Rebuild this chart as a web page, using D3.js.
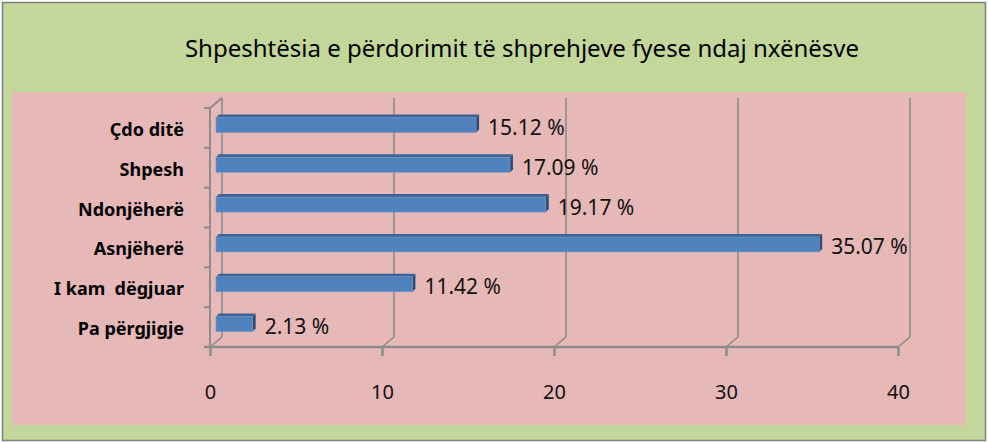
<!DOCTYPE html>
<html>
<head>
<meta charset="utf-8">
<script src="https://cdn.jsdelivr.net/npm/d3@7"></script>
<style>
  body { margin: 0; background: #fff; }
  svg text { font-family: "Noto Sans", sans-serif; white-space: pre; }
</style>
</head>
<body>
<div id="chart"></div>
<script>
var title = "Shpeshtësia e përdorimit të shprehjeve fyese ndaj nxënësve";
var categories = ["Çdo ditë", "Shpesh", "Ndonjëherë", "Asnjëherë", "I kam  dëgjuar", "Pa përgjigje"];
var values = [15.12, 17.09, 19.17, 35.07, 11.42, 2.13];
var ticks = [0, 10, 20, 30, 40];

var width = 988, height = 443;
var depthX = 12, depthY = -10;

var svg = d3.select("#chart").append("svg")
    .attr("width", width)
    .attr("height", height);

// outer chart area
svg.append("rect")
    .attr("x", 2.5).attr("y", 2.5)
    .attr("width", width - 5).attr("height", height - 5)
    .attr("fill", "#c4d79b")
    .attr("stroke", "#7f7f7f")
    .attr("stroke-width", 1.5);

// plot area
svg.append("rect")
    .attr("x", 12).attr("y", 92)
    .attr("width", 954).attr("height", 333)
    .attr("fill", "#e6b8b7");

svg.append("text")
    .attr("x", 522).attr("y", 57)
    .attr("text-anchor", "middle")
    .attr("font-size", 24)
    .attr("fill", "#000")
    .text(title);

var x = d3.scaleLinear()
    .domain([0, 40])
    .range([210, 898]);

var y = d3.scaleBand()
    .domain(categories)
    .range([108, 347])
    .paddingInner(0.55)
    .paddingOuter(0.275);

var grey = "#8c8c8c";
var g = svg.append("g");

// back wall gridlines with the little diagonal to the floor
ticks.forEach(function(t) {
    g.append("path")
        .attr("d", "M" + x(t) + ",347 L" + (x(t) + depthX) + "," + (347 + depthY) +
              " L" + (x(t) + depthX) + "," + (108 + depthY))
        .attr("fill", "none")
        .attr("stroke", grey)
        .attr("stroke-width", 1.6);
});

// left wall: front vertical line + top diagonal
g.append("path")
    .attr("d", "M" + (x(0) + depthX) + "," + (108 + depthY) + " L" + x(0) + ",108 L" + x(0) + ",347")
    .attr("fill", "none")
    .attr("stroke", grey)
    .attr("stroke-width", 2);

// category ticks on left axis
var bounds = [108, 147.8, 187.7, 227.5, 267.3, 307.2];
bounds.forEach(function(b) {
    g.append("line")
        .attr("x1", x(0) - 6).attr("x2", x(0))
        .attr("y1", b).attr("y2", b)
        .attr("stroke", grey).attr("stroke-width", 2);
});

// bottom axis
var xAxis = svg.append("g")
    .attr("transform", "translate(0,347)")
    .call(d3.axisBottom(x).tickValues(ticks).tickSize(9).tickPadding(29));
xAxis.select(".domain")
    .attr("stroke", grey).attr("stroke-width", 2.5)
    .attr("d", "M" + (x(0) - 6) + ",0H" + x(40));
xAxis.selectAll(".tick line").attr("stroke", grey).attr("stroke-width", 2.5);
xAxis.selectAll(".tick text")
    .attr("font-size", 20)
    .attr("fill", "#111")
    .style("font-family", "'Noto Sans', sans-serif");

// bars in 3D style
var bx = 6, by = -3, d = 3;
function mid(c) { return y(c) + y.bandwidth() / 2; }
var bars = svg.append("g").selectAll("g").data(categories).enter().append("g");

bars.append("path")   // top face
    .attr("d", function(c, i) {
        var x0 = x(0) + bx, x1 = x(values[i]) + bx, yt = mid(c) + by - 7.5;
        return "M" + x0 + "," + yt + " L" + (x0 + d) + "," + (yt - d) + " L" + (x1 + d) + "," + (yt - d) + " L" + x1 + "," + yt + "Z";
    })
    .attr("fill", "#3c6394");

bars.append("path")   // side face
    .attr("d", function(c, i) {
        var x1 = x(values[i]) + bx, yt = mid(c) + by - 7.5;
        return "M" + x1 + "," + yt + " L" + (x1 + d) + "," + (yt - d) + " L" + (x1 + d) + "," + (yt + 15 - d) + " L" + x1 + "," + (yt + 15) + "Z";
    })
    .attr("fill", "#2c4d75");

bars.append("rect")   // front face
    .attr("x", x(0) + bx)
    .attr("y", function(c) { return mid(c) + by - 7.5; })
    .attr("width", function(c, i) { return x(values[i]) - x(0); })
    .attr("height", 15)
    .attr("fill", "#4f81bd")
    .attr("stroke", "#6f95c8")
    .attr("stroke-width", 0.6);

bars.append("text")
    .attr("x", function(c, i) { return x(values[i]) + bx + 12; })
    .attr("y", function(c) { return mid(c) + 7; })
    .attr("font-size", 21)
    .attr("fill", "#111")
    .text(function(c, i) { return values[i].toFixed(2) + " %"; });

// category labels
svg.append("g").selectAll("text").data(categories).enter().append("text")
    .attr("x", 184)
    .attr("y", function(c) { return mid(c) + 8; })
    .attr("text-anchor", "end")
    .attr("font-size", 18)
    .attr("font-weight", "bold")
    .attr("fill", "#000")
    .text(function(c) { return c; });
</script>
</body>
</html>
